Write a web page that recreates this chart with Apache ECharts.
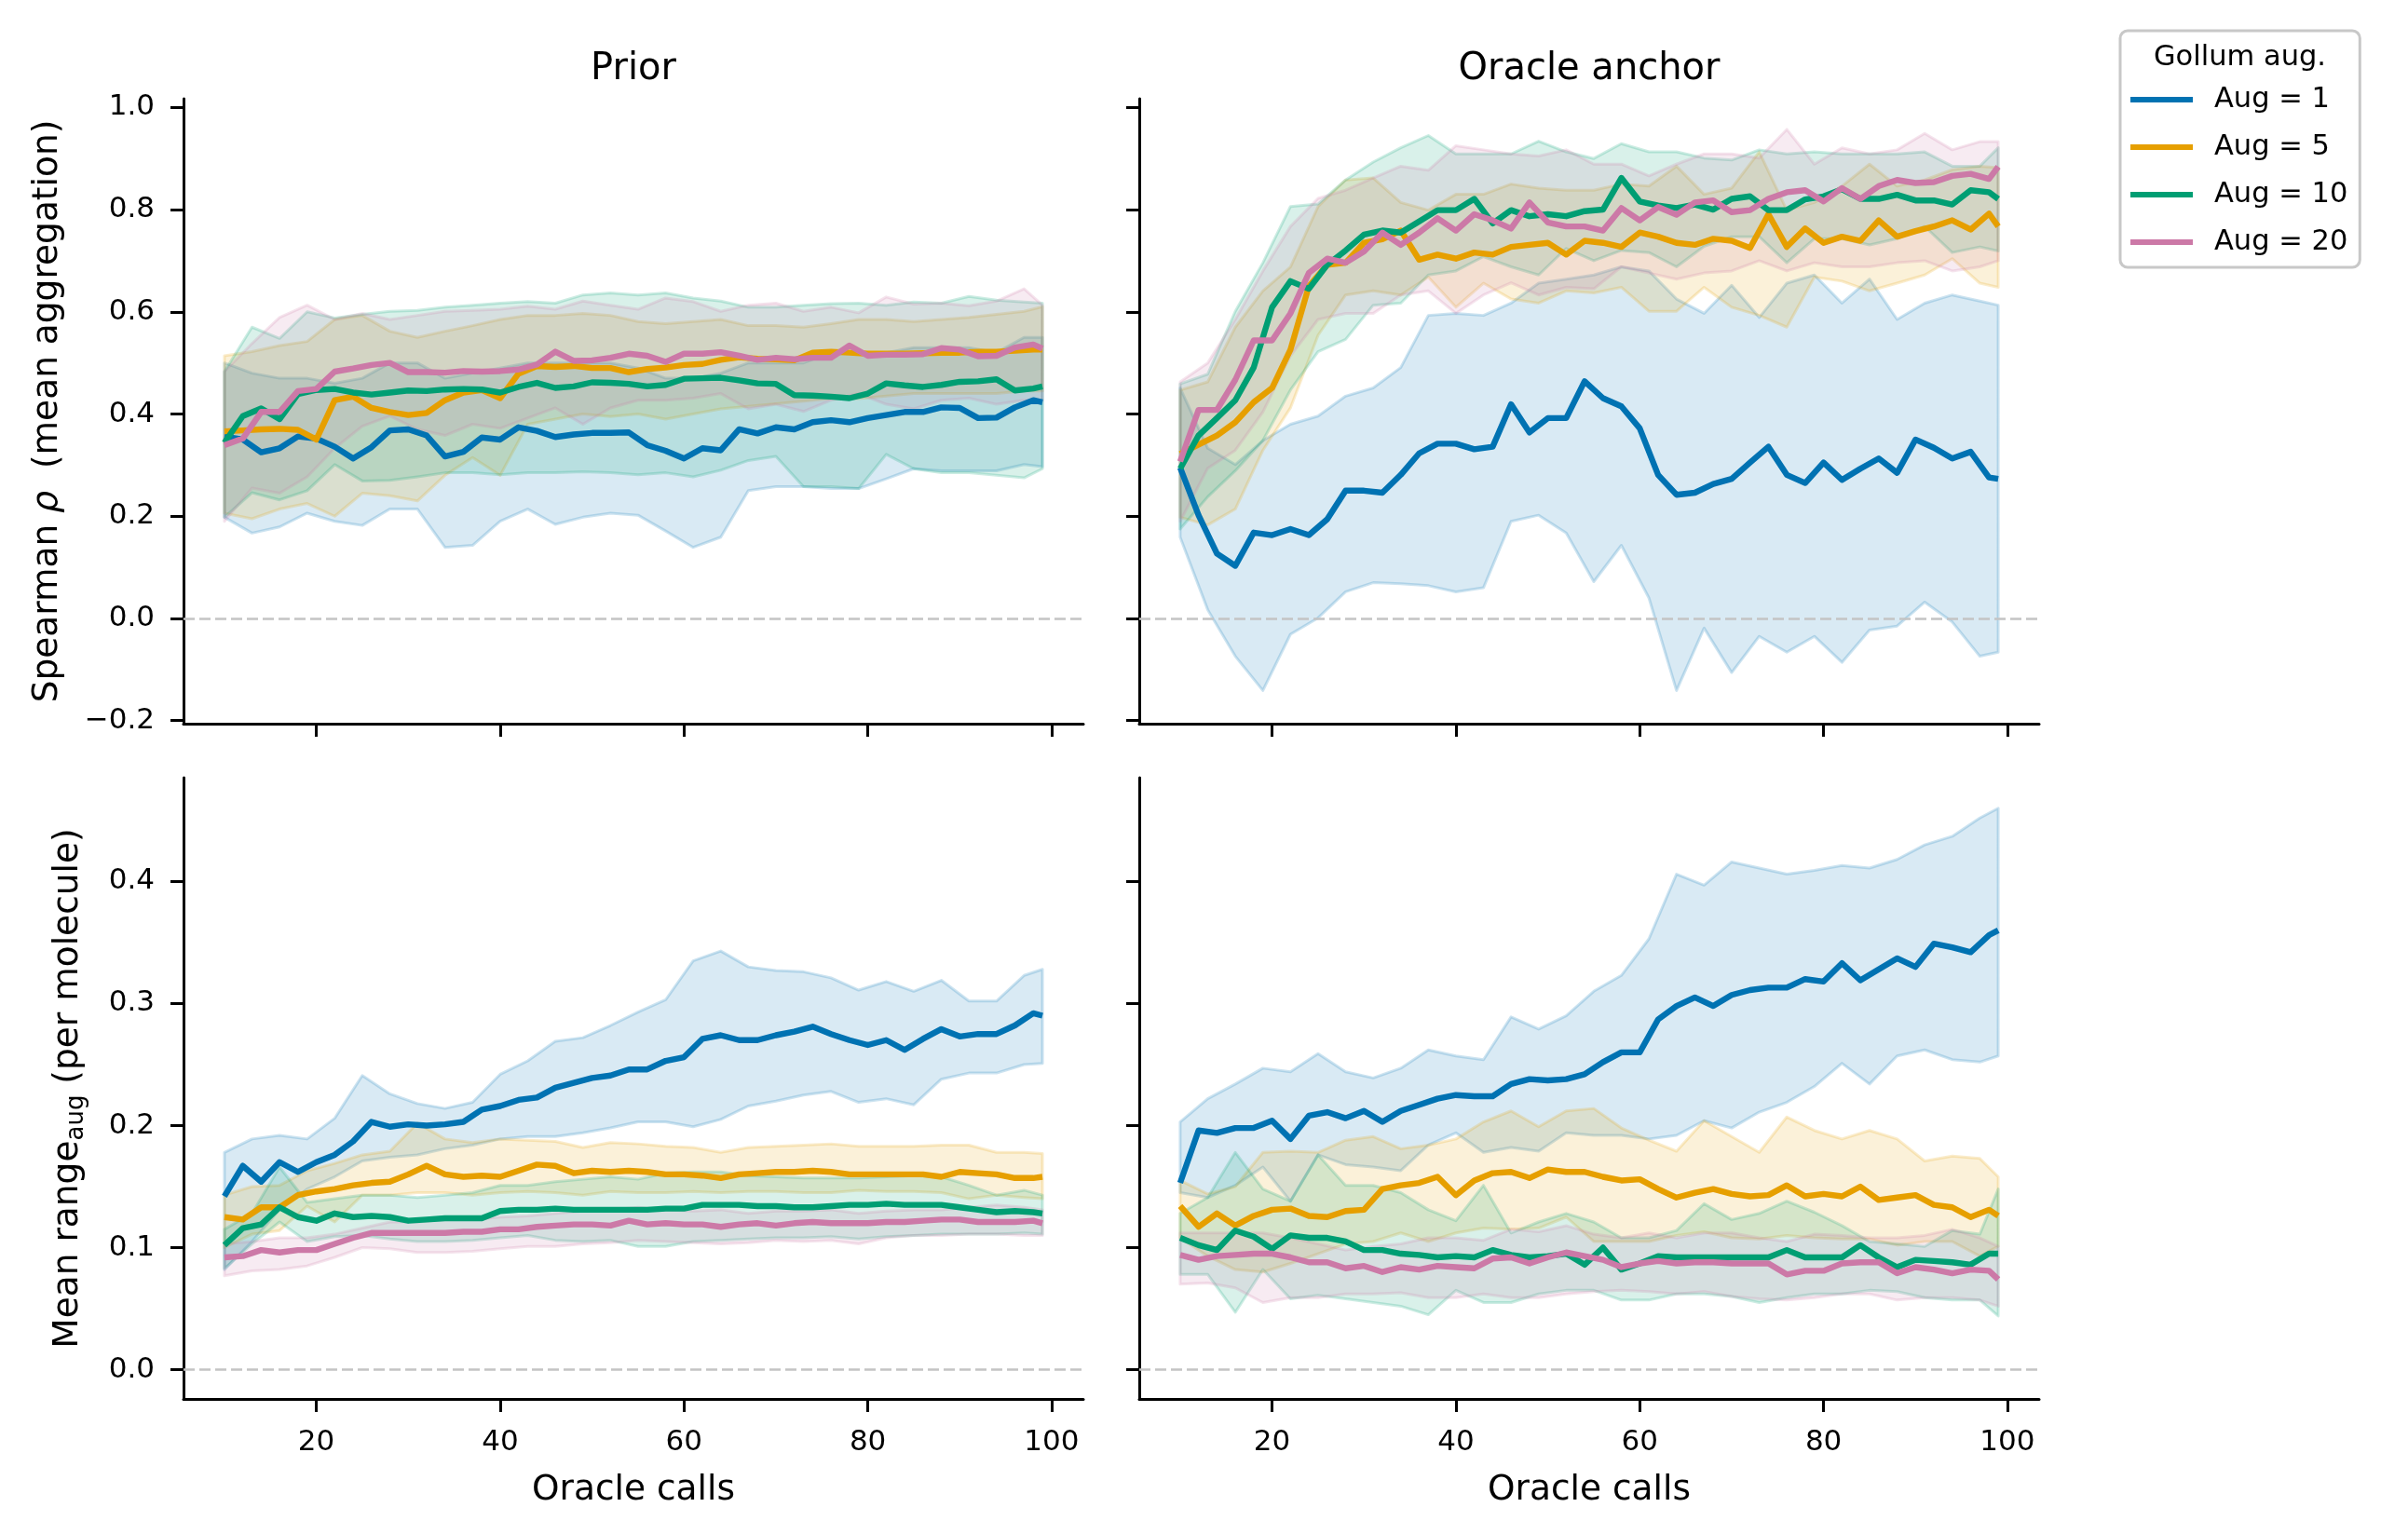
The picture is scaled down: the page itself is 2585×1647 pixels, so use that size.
<!DOCTYPE html>
<html><head><meta charset="utf-8">
<script src="https://cdn.jsdelivr.net/npm/echarts@6/dist/echarts.min.js"></script>
<style>html,body{margin:0;padding:0;background:#fff}#c{width:2585px;height:1647px}</style>
</head><body><div id="c"></div>
<script>
// ---------- axes / categories ----------
const X_MEAN = [10,12,14,16,18,20,22,24,26,28,30,32,34,36,38,40,42,44,46,48,50,52,54,56,58,60,62,64,66,68,70,72,74,76,78,80,82,84,86,88,90,92,94,96,98,99];
const X_BAND = [10,13,16,19,22,25,28,31,34,37,40,43,46,49,52,55,58,61,64,67,70,73,76,79,82,85,88,91,94,97,99];
const AUG_NAMES = ['Aug = 1','Aug = 5','Aug = 10','Aug = 20'];
const PANEL_TITLES = ['Prior','Oracle anchor'];
const X_TICKS = [20,40,60,80,100];
const RHO_TICKS = [-0.2,0,0.2,0.4,0.6,0.8,1.0];
const RANGE_TICKS = [0,0.1,0.2,0.3,0.4];

// ---------- Prior / Spearman rho ----------
const prior_rho_m1 = [0.356,0.350,0.325,0.333,0.356,0.352,0.336,0.313,0.335,0.368,0.370,0.358,0.317,0.326,0.354,0.350,0.374,0.367,0.355,0.360,0.363,0.363,0.364,0.339,0.328,0.313,0.333,0.329,0.370,0.362,0.374,0.370,0.384,0.388,0.384,0.392,0.398,0.404,0.404,0.413,0.412,0.392,0.393,0.413,0.427,0.423];
const prior_rho_m5 = [0.366,0.368,0.370,0.371,0.369,0.350,0.427,0.434,0.412,0.404,0.398,0.402,0.427,0.442,0.447,0.431,0.479,0.494,0.492,0.494,0.490,0.490,0.482,0.488,0.491,0.496,0.498,0.506,0.511,0.508,0.507,0.505,0.520,0.522,0.520,0.518,0.518,0.518,0.519,0.520,0.520,0.522,0.522,0.524,0.526,0.526];
const prior_rho_m10 = [0.344,0.396,0.411,0.390,0.439,0.447,0.449,0.442,0.438,0.442,0.446,0.445,0.448,0.449,0.448,0.442,0.453,0.461,0.451,0.454,0.462,0.461,0.459,0.454,0.457,0.469,0.470,0.471,0.466,0.460,0.459,0.437,0.436,0.434,0.431,0.440,0.460,0.456,0.453,0.457,0.463,0.464,0.468,0.446,0.450,0.454];
const prior_rho_m20 = [0.339,0.352,0.404,0.404,0.445,0.449,0.483,0.489,0.496,0.500,0.482,0.482,0.481,0.484,0.483,0.484,0.487,0.497,0.522,0.504,0.505,0.510,0.518,0.514,0.502,0.518,0.518,0.521,0.514,0.506,0.510,0.507,0.510,0.510,0.534,0.514,0.516,0.516,0.517,0.529,0.526,0.513,0.514,0.530,0.536,0.528];
const prior_rho_lo1 = [0.198,0.167,0.179,0.206,0.190,0.182,0.214,0.214,0.139,0.143,0.190,0.214,0.184,0.198,0.206,0.202,0.171,0.139,0.159,0.250,0.258,0.258,0.254,0.254,0.273,0.293,0.289,0.289,0.289,0.301,0.297];
const prior_rho_hi1 = [0.50,0.48,0.47,0.47,0.46,0.47,0.50,0.50,0.47,0.48,0.49,0.50,0.50,0.50,0.50,0.49,0.47,0.47,0.48,0.50,0.50,0.50,0.52,0.52,0.52,0.53,0.53,0.53,0.52,0.55,0.55];
const prior_rho_lo5 = [0.206,0.195,0.214,0.225,0.200,0.245,0.240,0.230,0.280,0.315,0.280,0.380,0.390,0.400,0.395,0.400,0.390,0.400,0.410,0.415,0.420,0.425,0.430,0.430,0.435,0.440,0.440,0.440,0.440,0.445,0.445];
const prior_rho_hi5 = [0.514,0.522,0.534,0.542,0.585,0.593,0.562,0.550,0.562,0.573,0.585,0.593,0.593,0.597,0.593,0.581,0.577,0.581,0.585,0.573,0.573,0.570,0.577,0.585,0.585,0.581,0.585,0.589,0.595,0.601,0.610];
const prior_rho_lo10 = [0.198,0.246,0.232,0.250,0.301,0.269,0.270,0.277,0.285,0.285,0.281,0.285,0.285,0.287,0.285,0.281,0.285,0.277,0.290,0.309,0.317,0.258,0.258,0.254,0.321,0.293,0.285,0.285,0.280,0.275,0.293];
const prior_rho_hi10 = [0.483,0.570,0.548,0.600,0.588,0.595,0.601,0.603,0.609,0.613,0.617,0.620,0.617,0.633,0.637,0.633,0.637,0.627,0.621,0.609,0.609,0.613,0.616,0.617,0.613,0.619,0.617,0.630,0.623,0.619,0.617];
const prior_rho_lo20 = [0.190,0.255,0.245,0.277,0.333,0.376,0.396,0.370,0.358,0.380,0.372,0.392,0.412,0.380,0.412,0.427,0.427,0.431,0.440,0.410,0.419,0.405,0.427,0.440,0.419,0.410,0.427,0.431,0.419,0.427,0.427];
const prior_rho_hi20 = [0.483,0.538,0.589,0.613,0.585,0.597,0.585,0.593,0.601,0.603,0.605,0.611,0.605,0.621,0.613,0.605,0.627,0.620,0.601,0.613,0.617,0.601,0.609,0.598,0.629,0.615,0.617,0.612,0.621,0.645,0.613];

// ---------- Oracle anchor / Spearman rho ----------
const anchor_rho_m1 = [0.295,0.202,0.127,0.103,0.168,0.163,0.175,0.163,0.194,0.250,0.250,0.246,0.281,0.323,0.342,0.342,0.331,0.336,0.419,0.364,0.392,0.392,0.464,0.431,0.415,0.372,0.281,0.242,0.246,0.263,0.273,0.305,0.336,0.281,0.265,0.305,0.271,0.293,0.313,0.285,0.350,0.334,0.313,0.326,0.276,0.273];
const anchor_rho_m5 = [0.322,0.340,0.358,0.384,0.423,0.451,0.526,0.650,0.692,0.696,0.735,0.742,0.759,0.702,0.712,0.704,0.716,0.712,0.727,0.731,0.735,0.712,0.739,0.735,0.727,0.755,0.747,0.735,0.731,0.743,0.739,0.725,0.791,0.727,0.763,0.735,0.747,0.739,0.779,0.747,0.758,0.767,0.779,0.761,0.792,0.767];
const anchor_rho_m10 = [0.293,0.358,0.392,0.427,0.491,0.609,0.660,0.645,0.692,0.720,0.751,0.759,0.755,0.777,0.799,0.799,0.821,0.773,0.799,0.787,0.791,0.787,0.797,0.800,0.862,0.816,0.808,0.803,0.810,0.800,0.821,0.826,0.799,0.799,0.820,0.826,0.840,0.821,0.821,0.829,0.818,0.818,0.810,0.838,0.834,0.821];
const anchor_rho_m20 = [0.307,0.408,0.408,0.467,0.544,0.544,0.597,0.676,0.704,0.696,0.718,0.755,0.731,0.755,0.783,0.759,0.791,0.779,0.763,0.814,0.775,0.767,0.767,0.759,0.803,0.779,0.805,0.790,0.814,0.818,0.795,0.799,0.821,0.834,0.838,0.816,0.842,0.821,0.846,0.858,0.852,0.854,0.866,0.870,0.860,0.884];
const anchor_rho_lo1 = [0.159,0.017,-0.074,-0.141,-0.031,0.001,0.052,0.070,0.068,0.064,0.052,0.060,0.190,0.202,0.167,0.072,0.143,0.040,-0.141,-0.019,-0.106,-0.035,-0.066,-0.035,-0.086,-0.023,-0.015,0.032,-0.007,-0.074,-0.066];
const anchor_rho_hi1 = [0.451,0.333,0.301,0.348,0.380,0.396,0.435,0.451,0.491,0.593,0.597,0.593,0.617,0.656,0.664,0.672,0.688,0.680,0.625,0.597,0.652,0.589,0.656,0.672,0.617,0.664,0.585,0.617,0.633,0.621,0.613];
const anchor_rho_lo5 = [0.198,0.183,0.214,0.329,0.412,0.554,0.633,0.641,0.633,0.668,0.609,0.656,0.625,0.617,0.641,0.637,0.648,0.601,0.601,0.648,0.609,0.593,0.570,0.668,0.660,0.641,0.656,0.672,0.704,0.656,0.648];
const anchor_rho_hi5 = [0.447,0.463,0.570,0.641,0.688,0.806,0.858,0.862,0.814,0.799,0.830,0.830,0.850,0.842,0.838,0.838,0.850,0.846,0.885,0.830,0.842,0.913,0.799,0.814,0.846,0.889,0.846,0.858,0.878,0.885,0.882];
const anchor_rho_lo10 = [0.175,0.238,0.289,0.348,0.447,0.522,0.546,0.613,0.617,0.672,0.680,0.708,0.688,0.672,0.724,0.700,0.720,0.716,0.688,0.728,0.747,0.747,0.696,0.743,0.743,0.731,0.743,0.767,0.716,0.727,0.719];
const anchor_rho_hi10 = [0.459,0.478,0.601,0.696,0.806,0.811,0.858,0.893,0.921,0.945,0.909,0.909,0.909,0.934,0.913,0.900,0.929,0.913,0.913,0.901,0.897,0.917,0.909,0.913,0.909,0.909,0.909,0.913,0.885,0.885,0.921];
const anchor_rho_lo20 = [0.190,0.294,0.329,0.404,0.514,0.585,0.597,0.597,0.633,0.641,0.597,0.633,0.657,0.633,0.648,0.645,0.688,0.676,0.664,0.676,0.680,0.700,0.680,0.696,0.688,0.688,0.696,0.700,0.680,0.688,0.700];
const anchor_rho_hi20 = [0.463,0.500,0.585,0.680,0.767,0.822,0.838,0.862,0.885,0.877,0.925,0.917,0.909,0.905,0.917,0.889,0.889,0.866,0.889,0.909,0.909,0.901,0.957,0.889,0.921,0.909,0.917,0.949,0.917,0.933,0.933];

// ---------- Prior / mean range ----------
const prior_rng_m1 = [0.142,0.167,0.154,0.170,0.162,0.170,0.176,0.187,0.203,0.199,0.201,0.200,0.201,0.203,0.213,0.216,0.221,0.223,0.231,0.235,0.239,0.241,0.246,0.246,0.253,0.256,0.271,0.274,0.270,0.270,0.274,0.277,0.281,0.275,0.270,0.266,0.270,0.262,0.271,0.279,0.273,0.275,0.275,0.282,0.292,0.290];
const prior_rng_m5 = [0.125,0.123,0.133,0.133,0.143,0.146,0.148,0.151,0.153,0.154,0.160,0.167,0.160,0.158,0.159,0.158,0.163,0.168,0.167,0.161,0.163,0.162,0.163,0.162,0.160,0.160,0.159,0.157,0.160,0.161,0.162,0.162,0.163,0.162,0.160,0.160,0.160,0.160,0.160,0.158,0.162,0.161,0.160,0.157,0.157,0.158];
const prior_rng_m10 = [0.102,0.116,0.119,0.133,0.125,0.122,0.128,0.125,0.126,0.125,0.122,0.123,0.124,0.124,0.124,0.130,0.131,0.131,0.132,0.131,0.131,0.131,0.131,0.131,0.132,0.132,0.135,0.135,0.135,0.134,0.134,0.133,0.133,0.134,0.135,0.135,0.136,0.135,0.135,0.135,0.133,0.131,0.129,0.130,0.129,0.128];
const prior_rng_m20 = [0.092,0.093,0.098,0.096,0.098,0.098,0.103,0.108,0.112,0.112,0.112,0.112,0.112,0.113,0.113,0.115,0.115,0.117,0.118,0.119,0.119,0.118,0.122,0.119,0.120,0.119,0.119,0.117,0.119,0.120,0.118,0.120,0.121,0.120,0.120,0.120,0.121,0.121,0.122,0.123,0.123,0.121,0.121,0.121,0.122,0.120];
const prior_rng_lo1 = [0.082,0.105,0.131,0.148,0.158,0.171,0.174,0.176,0.181,0.184,0.189,0.191,0.191,0.194,0.198,0.203,0.203,0.199,0.205,0.216,0.220,0.225,0.228,0.219,0.222,0.217,0.238,0.243,0.243,0.250,0.251];
const prior_rng_hi1 = [0.178,0.189,0.192,0.189,0.206,0.241,0.226,0.218,0.214,0.219,0.242,0.253,0.269,0.272,0.282,0.293,0.303,0.335,0.343,0.330,0.327,0.326,0.321,0.311,0.318,0.310,0.319,0.302,0.302,0.323,0.328];
const prior_rng_lo5 = [0.100,0.111,0.114,0.134,0.121,0.143,0.143,0.145,0.145,0.143,0.145,0.146,0.145,0.143,0.146,0.145,0.145,0.146,0.145,0.146,0.146,0.145,0.145,0.147,0.146,0.146,0.145,0.140,0.143,0.141,0.140];
const prior_rng_hi5 = [0.143,0.150,0.151,0.163,0.169,0.176,0.179,0.202,0.189,0.186,0.189,0.188,0.187,0.182,0.186,0.185,0.183,0.182,0.178,0.182,0.183,0.184,0.185,0.183,0.183,0.183,0.184,0.184,0.178,0.178,0.177];
const prior_rng_lo10 = [0.083,0.103,0.121,0.105,0.109,0.110,0.107,0.105,0.105,0.106,0.108,0.110,0.106,0.105,0.106,0.101,0.101,0.105,0.106,0.107,0.108,0.108,0.109,0.107,0.109,0.110,0.111,0.111,0.111,0.112,0.111];
const prior_rng_hi10 = [0.115,0.128,0.166,0.137,0.140,0.143,0.143,0.141,0.143,0.145,0.151,0.151,0.154,0.156,0.158,0.156,0.161,0.162,0.162,0.159,0.158,0.157,0.157,0.157,0.158,0.159,0.158,0.151,0.143,0.147,0.143];
const prior_rng_lo20 = [0.077,0.081,0.082,0.085,0.092,0.100,0.099,0.096,0.096,0.097,0.099,0.101,0.101,0.103,0.104,0.106,0.105,0.104,0.103,0.104,0.106,0.105,0.106,0.103,0.108,0.110,0.110,0.111,0.111,0.110,0.110];
const prior_rng_hi20 = [0.103,0.105,0.108,0.108,0.111,0.116,0.121,0.121,0.123,0.123,0.125,0.126,0.128,0.130,0.131,0.133,0.131,0.130,0.131,0.128,0.130,0.130,0.131,0.128,0.130,0.131,0.131,0.133,0.135,0.133,0.131];

// ---------- Oracle anchor / mean range ----------
const anchor_rng_m1 = [0.153,0.196,0.194,0.198,0.198,0.204,0.189,0.208,0.211,0.206,0.212,0.203,0.212,0.217,0.222,0.225,0.224,0.224,0.234,0.238,0.237,0.238,0.242,0.252,0.260,0.260,0.287,0.298,0.305,0.298,0.307,0.311,0.313,0.313,0.320,0.318,0.333,0.319,0.328,0.337,0.330,0.349,0.346,0.342,0.356,0.360];
const anchor_rng_m5 = [0.134,0.117,0.128,0.118,0.126,0.131,0.132,0.126,0.125,0.130,0.131,0.148,0.151,0.153,0.158,0.143,0.155,0.161,0.162,0.157,0.164,0.162,0.162,0.158,0.155,0.156,0.148,0.141,0.145,0.148,0.144,0.142,0.143,0.151,0.142,0.144,0.142,0.150,0.139,0.141,0.143,0.135,0.133,0.125,0.131,0.126];
const anchor_rng_m10 = [0.108,0.102,0.098,0.114,0.109,0.099,0.110,0.108,0.108,0.105,0.098,0.098,0.095,0.094,0.092,0.093,0.092,0.098,0.094,0.092,0.093,0.095,0.086,0.100,0.082,0.087,0.093,0.092,0.092,0.092,0.092,0.092,0.092,0.098,0.092,0.092,0.092,0.102,0.092,0.084,0.090,0.089,0.088,0.086,0.095,0.095];
const anchor_rng_m20 = [0.094,0.090,0.093,0.094,0.095,0.095,0.092,0.088,0.088,0.083,0.085,0.080,0.084,0.082,0.085,0.084,0.083,0.091,0.092,0.087,0.092,0.096,0.093,0.090,0.084,0.087,0.089,0.087,0.088,0.088,0.087,0.087,0.087,0.078,0.081,0.081,0.087,0.088,0.088,0.079,0.084,0.082,0.079,0.082,0.081,0.074];
const anchor_rng_lo1 = [0.145,0.141,0.151,0.166,0.138,0.176,0.168,0.166,0.163,0.184,0.194,0.178,0.182,0.179,0.194,0.192,0.192,0.189,0.192,0.204,0.198,0.211,0.219,0.232,0.251,0.234,0.257,0.262,0.254,0.252,0.257];
const anchor_rng_hi1 = [0.203,0.222,0.234,0.247,0.244,0.259,0.244,0.239,0.247,0.262,0.257,0.254,0.289,0.279,0.290,0.310,0.323,0.353,0.406,0.397,0.416,0.411,0.406,0.409,0.413,0.411,0.418,0.430,0.437,0.452,0.460];
const anchor_rng_lo5 = [0.108,0.093,0.082,0.080,0.087,0.095,0.103,0.105,0.112,0.105,0.112,0.116,0.115,0.116,0.125,0.105,0.105,0.105,0.110,0.113,0.108,0.107,0.110,0.108,0.107,0.107,0.102,0.105,0.105,0.093,0.101];
const anchor_rng_hi5 = [0.155,0.144,0.150,0.178,0.179,0.178,0.188,0.191,0.181,0.184,0.189,0.203,0.212,0.199,0.212,0.214,0.198,0.188,0.179,0.204,0.191,0.178,0.207,0.196,0.189,0.196,0.189,0.171,0.175,0.173,0.158];
const anchor_rng_lo10 = [0.078,0.078,0.047,0.082,0.058,0.061,0.058,0.055,0.052,0.045,0.065,0.055,0.055,0.062,0.065,0.065,0.057,0.057,0.062,0.062,0.060,0.055,0.059,0.062,0.062,0.065,0.064,0.059,0.057,0.057,0.044];
const anchor_rng_hi10 = [0.128,0.141,0.178,0.148,0.138,0.176,0.151,0.151,0.145,0.131,0.122,0.151,0.112,0.121,0.128,0.121,0.108,0.108,0.114,0.136,0.123,0.128,0.138,0.129,0.118,0.105,0.103,0.101,0.114,0.111,0.148];
const anchor_rng_lo20 = [0.070,0.071,0.067,0.055,0.059,0.059,0.062,0.062,0.063,0.059,0.059,0.062,0.059,0.059,0.062,0.064,0.065,0.064,0.062,0.064,0.060,0.058,0.057,0.059,0.062,0.062,0.057,0.059,0.059,0.057,0.052];
const anchor_rng_hi20 = [0.112,0.112,0.112,0.112,0.108,0.103,0.098,0.101,0.103,0.108,0.108,0.106,0.115,0.113,0.118,0.111,0.108,0.112,0.108,0.112,0.112,0.108,0.105,0.111,0.110,0.108,0.108,0.110,0.115,0.108,0.101];

// ---------- styling ----------
const COLORS = ['#0072B2','#E69F00','#009E73','#CC79A7'];
const RGB = ['0,114,178','230,159,0','0,158,115','204,121,167'];
const FONT = 'DejaVu Sans';

const panels = [
  {means:[prior_rho_m1,prior_rho_m5,prior_rho_m10,prior_rho_m20], lo:[prior_rho_lo1,prior_rho_lo5,prior_rho_lo10,prior_rho_lo20], hi:[prior_rho_hi1,prior_rho_hi5,prior_rho_hi10,prior_rho_hi20]},
  {means:[anchor_rho_m1,anchor_rho_m5,anchor_rho_m10,anchor_rho_m20], lo:[anchor_rho_lo1,anchor_rho_lo5,anchor_rho_lo10,anchor_rho_lo20], hi:[anchor_rho_hi1,anchor_rho_hi5,anchor_rho_hi10,anchor_rho_hi20]},
  {means:[prior_rng_m1,prior_rng_m5,prior_rng_m10,prior_rng_m20], lo:[prior_rng_lo1,prior_rng_lo5,prior_rng_lo10,prior_rng_lo20], hi:[prior_rng_hi1,prior_rng_hi5,prior_rng_hi10,prior_rng_hi20]},
  {means:[anchor_rng_m1,anchor_rng_m5,anchor_rng_m10,anchor_rng_m20], lo:[anchor_rng_lo1,anchor_rng_lo5,anchor_rng_lo10,anchor_rng_lo20], hi:[anchor_rng_hi1,anchor_rng_hi5,anchor_rng_hi10,anchor_rng_hi20]}
];

const grids = [
  {left:197, top:106, width:966, height:671},
  {left:1223, top:106, width:966, height:671},
  {left:197, top:835, width:966, height:667},
  {left:1223, top:835, width:966, height:667}
];

const fmt = v => (v < 0 ? '\u2212' : '') + Math.abs(v).toFixed(1);

const xAxes = grids.map((g, i) => ({
  gridIndex: i, type: 'value', min: 5.55, max: 103.45,
  axisLine: {show: true, onZero: false, lineStyle: {color: '#000', width: 3}},
  axisTick: {show: true, length: 14, lineStyle: {color: '#000', width: 3}, customValues: X_TICKS},
  axisLabel: {show: i >= 2, customValues: X_TICKS, fontSize: 31, color: '#000', margin: 31, fontFamily: FONT},
  splitLine: {show: false},
  name: i >= 2 ? 'Oracle calls' : '', nameLocation: 'middle', nameGap: 76,
  nameTextStyle: {fontSize: 37.5, color: '#000', fontFamily: FONT, lineHeight: 45}
}));

const yAxes = grids.map((g, i) => {
  const top = i < 2;
  const ax = {
    gridIndex: i, type: 'value',
    min: top ? -0.206 : -0.024, max: top ? 1.017 : 0.485,
    axisLine: {show: true, onZero: false, lineStyle: {color: '#000', width: 3}},
    axisTick: {show: true, length: 14, lineStyle: {color: '#000', width: 3}, customValues: top ? RHO_TICKS : RANGE_TICKS},
    axisLabel: {show: i % 2 === 0, customValues: top ? RHO_TICKS : RANGE_TICKS, formatter: fmt, fontSize: 31, color: '#000', margin: 31, fontFamily: FONT},
    splitLine: {show: false}
  };
  if (i === 0) {
    ax.name = 'Spearman {it|\u03c1}  (mean aggregation)';
    ax.nameLocation = 'middle'; ax.nameGap = 124;
    ax.nameTextStyle = {fontSize: 37.5, color: '#000', fontFamily: FONT, lineHeight: 44,
      rich: {it: {fontStyle: 'italic', fontSize: 37.5, fontFamily: FONT, lineHeight: 44, color: '#000'}}};
  } else if (i === 2) {
    ax.name = 'Mean range{sub|aug} (per molecule)';
    ax.nameLocation = 'middle'; ax.nameGap = 102;
    ax.nameTextStyle = {fontSize: 37.5, color: '#000', fontFamily: FONT, lineHeight: 44,
      rich: {sub: {fontSize: 26, fontFamily: FONT, lineHeight: 30, verticalAlign: 'bottom', color: '#000'}}};
  }
  return ax;
});

function bandSeries(gi, k, lo, hi) {
  return {
    type: 'custom', name: AUG_NAMES[k] + ' band', xAxisIndex: gi, yAxisIndex: gi,
    silent: true, z: 1, clip: true,
    data: X_BAND.map((x, j) => [x, lo[j], hi[j]]),
    encode: {x: 0, y: [1, 2]},
    renderItem: function (params, api) {
      if (params.dataIndex !== 0) return null;
      const pts = [];
      for (let j = 0; j < X_BAND.length; j++) pts.push(api.coord([X_BAND[j], hi[j]]));
      for (let j = X_BAND.length - 1; j >= 0; j--) pts.push(api.coord([X_BAND[j], lo[j]]));
      return {
        type: 'polygon', shape: {points: pts},
        style: {fill: 'rgba(' + RGB[k] + ',0.15)', stroke: 'rgba(' + RGB[k] + ',0.2)', lineWidth: 3, lineJoin: 'round'}
      };
    }
  };
}

const series = [];
panels.forEach((p, gi) => {
  for (let k = 0; k < 4; k++) series.push(bandSeries(gi, k, p.lo[k], p.hi[k]));
  for (let k = 0; k < 4; k++) {
    const s = {
      type: 'line', name: AUG_NAMES[k], xAxisIndex: gi, yAxisIndex: gi,
      symbol: 'none', z: 3,
      data: X_MEAN.map((x, j) => [x, p.means[k][j]]),
      lineStyle: {color: COLORS[k], width: 6.4, join: 'round'},
      itemStyle: {color: COLORS[k]}
    };
    if (k === 0) {
      s.markLine = {
        silent: true, symbol: 'none', label: {show: false},
        lineStyle: {color: '#c4c4c4', type: [12, 5], width: 2.5},
        data: [{yAxis: 0}]
      };
    }
    series.push(s);
  }
});

const option = {
  animation: false,
  backgroundColor: '#fff',
  textStyle: {fontFamily: FONT},
  grid: grids,
  xAxis: xAxes,
  yAxis: yAxes,
  legend: {
    data: AUG_NAMES, orient: 'vertical', left: 2276, top: 33,
    padding: [58, 13, 11, 11], itemWidth: 67, itemHeight: 6, itemGap: 19,
    icon: 'rect', borderColor: '#c8c8c8', borderWidth: 3, borderRadius: 8,
    backgroundColor: '#fff', selectedMode: false,
    textStyle: {fontSize: 30.5, color: '#000', fontFamily: FONT, lineHeight: 32, padding: [0, 0, 0, 18]}
  },
  graphic: [
    {type: 'text', x: 680, y: 74.5, z: 10, style: {text: PANEL_TITLES[0], font: '40px "DejaVu Sans"', fill: '#000', align: 'center', verticalAlign: 'middle', textAlign: 'center', textVerticalAlign: 'middle'}},
    {type: 'text', x: 1706, y: 74.5, z: 10, style: {text: PANEL_TITLES[1], font: '40px "DejaVu Sans"', fill: '#000', align: 'center', verticalAlign: 'middle', textAlign: 'center', textVerticalAlign: 'middle'}},
    {type: 'text', x: 2404.5, y: 62, z: 100, style: {text: 'Gollum aug.', font: '30.5px "DejaVu Sans"', fill: '#000', align: 'center', verticalAlign: 'middle', textAlign: 'center', textVerticalAlign: 'middle'}}
  ],
  series: series
};

const chart = echarts.init(document.getElementById('c'), null, {renderer: 'canvas', width: 2585, height: 1647});
chart.setOption(option);
</script>
</body></html>
